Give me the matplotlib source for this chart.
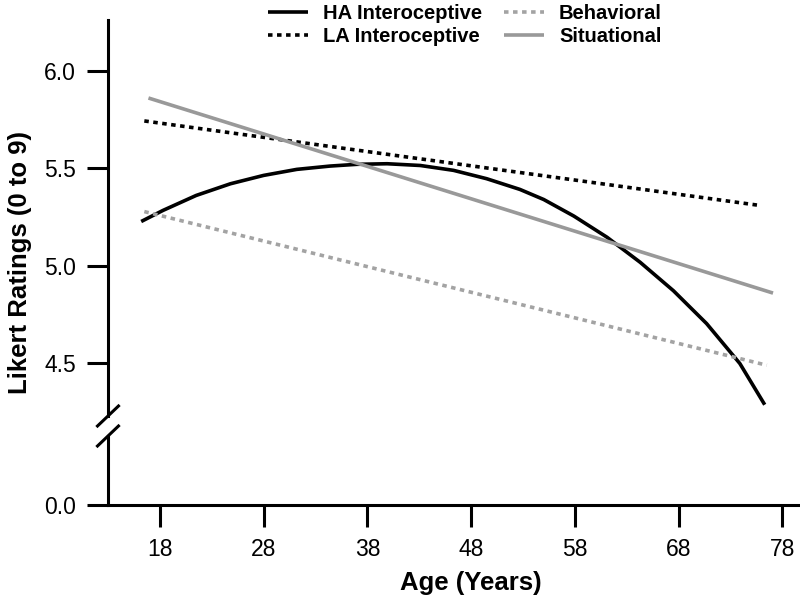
import numpy as np
import matplotlib
matplotlib.use('Agg')
import matplotlib.pyplot as plt
from matplotlib.lines import Line2D

plt.rcParams['font.family'] = ['Liberation Sans', 'DejaVu Sans']

# values
ha_age = [16.2, 18.3, 21.5, 24.8, 28.0, 31.2, 34.4, 37.0, 39.9, 43.1, 46.3, 49.5,
          52.7, 55.0, 57.9, 61.1, 64.3, 67.5, 70.7, 73.9, 76.3]
ha_val = [5.227, 5.284, 5.361, 5.421, 5.464, 5.495, 5.512, 5.521, 5.524, 5.515, 5.490, 5.447,
          5.392, 5.340, 5.255, 5.146, 5.017, 4.871, 4.702, 4.497, 4.285]

la_age = [16.5, 75.9]
la_val = [5.744, 5.309]

beh_age = [16.5, 76.5]
beh_val = [5.278, 4.488]

sit_age = [16.9, 77.1]
sit_val = [5.862, 4.859]

x_ticks = [18, 28, 38, 48, 58, 68, 78]
y_ticks_top = [4.5, 5.0, 5.5, 6.0]
y_ticks_bot = [0.0]

W, H = 800, 599
fig = plt.figure(figsize=(8, 5.99), dpi=100)

left = 108 / W
right = 800 / W
ax = fig.add_axes([left, (H - 416) / H, right - left, (416 - 20) / H])
axb = fig.add_axes([left, (H - 505) / H, right - left, (505 - 436) / H])

lw = 2.6
dots = (0, (1.25, 1.25))
ax.plot(ha_age, ha_val, color='black', lw=lw, label='HA Interoceptive', solid_capstyle='butt')
ax.plot(la_age, la_val, color='black', lw=lw, linestyle=dots, dash_capstyle='butt', label='LA Interoceptive')
ax.plot(beh_age, beh_val, color='#a3a3a3', lw=lw, linestyle=dots, dash_capstyle='butt', label='Behavioral')
ax.plot(sit_age, sit_val, color='#999999', lw=lw, label='Situational', solid_capstyle='butt')

xlim = (13.0, 79.7)
ax.set_xlim(*xlim)
axb.set_xlim(*xlim)
ax.set_ylim(4.227, 6.263)
axb.set_ylim(0, 0.35)

for a in (ax, axb):
    for s in ('top', 'right'):
        a.spines[s].set_visible(False)
    for s in ('left', 'bottom'):
        a.spines[s].set_linewidth(2.2)
    a.tick_params(width=2.2, length=15, labelsize=16.5, pad=8)
    a.patch.set_alpha(0)

ax.spines['bottom'].set_visible(False)
ax.tick_params(axis='x', bottom=False, labelbottom=False)
ax.set_yticks(y_ticks_top)
ax.set_yticklabels(['%.1f' % v for v in y_ticks_top])

axb.set_yticks(y_ticks_bot)
axb.set_yticklabels(['%.1f' % v for v in y_ticks_bot])
axb.set_xticks(x_ticks)
axb.tick_params(axis='x', length=16)

# axis break marks
xs = 108 / W
dx = 10.5 / W
dy = 10 / H
for yp in (416, 436):
    yc = (H - yp) / H
    fig.add_artist(Line2D([xs - dx, xs + dx], [yc - dy, yc + dy], color='black', lw=2.2,
                          transform=fig.transFigure))

fig.text(20 / W, (H - 262) / H, 'Likert Ratings (0 to 9)', rotation=90, ha='center', va='center',
         fontsize=18.5, fontweight='bold')
fig.text(471 / W, (H - 590) / H, 'Age (Years)', ha='center', va='baseline', fontsize=18.5,
         fontweight='bold')

h, l = ax.get_legend_handles_labels()
fig.legend(h, l, loc='upper center',
           bbox_to_anchor=(465 / W, 1.006), ncol=2, frameon=False,
           prop={'weight': 'bold', 'size': 14.5}, handlelength=2.0, handletextpad=0.75,
           columnspacing=1.05, labelspacing=0.18, borderaxespad=0)

fig.savefig('out.png', dpi=100)
